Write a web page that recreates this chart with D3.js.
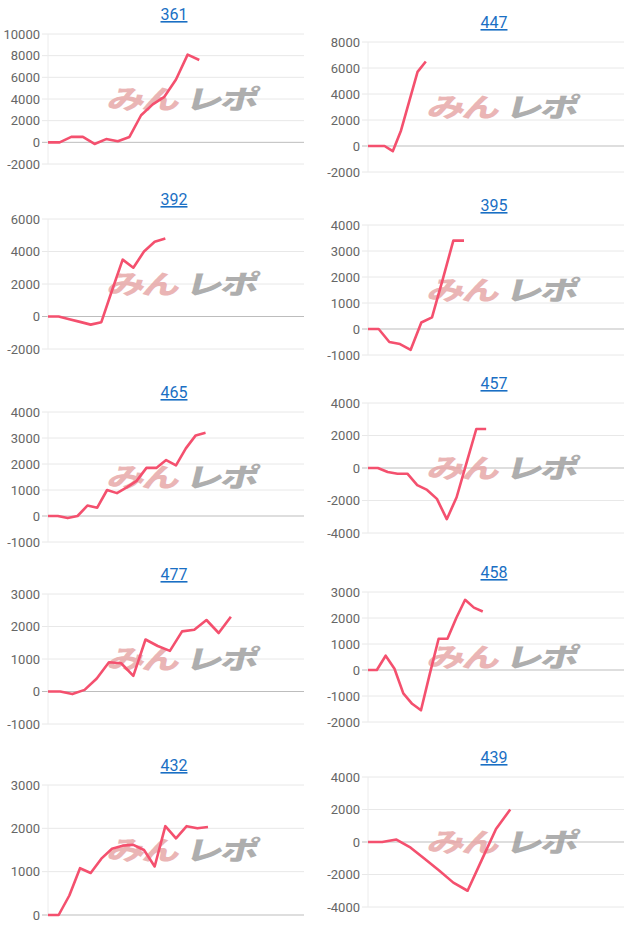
<!DOCTYPE html>
<html><head><meta charset="utf-8">
<script src="https://cdn.jsdelivr.net/npm/d3@7"></script>
<style>body{margin:0;background:#fff;}svg{display:block;font-family:Roboto,"Noto Sans",sans-serif;}</style>
</head><body><svg id="c" width="640" height="931"></svg>
<script>
const titles = ["361","447","392","395","465","457","477","458","432","439"];
const slotCounts = [23,32,25,25,27,27,22,30,25,19];
const yTicks = [
  [-2000,0,2000,4000,6000,8000,10000],
  [-2000,0,2000,4000,6000,8000],
  [-2000,0,2000,4000,6000],
  [-1000,0,1000,2000,3000,4000],
  [-1000,0,1000,2000,3000,4000],
  [-4000,-2000,0,2000,4000],
  [-1000,0,1000,2000,3000],
  [-2000,-1000,0,1000,2000,3000],
  [0,1000,2000,3000],
  [-4000,-2000,0,2000,4000]
];
const v361 = [0,0,500,500,-150,300,100,500,2500,3500,4200,5800,8100,7600];
const v447 = [0,0,0,-400,1200,3450,5700,6500];
const v392 = [0,0,-170,-330,-500,-350,1600,3500,3000,4000,4600,4800];
const v395 = [0,0,-500,-580,-800,250,450,1900,3400,3400];
const v465 = [0,0,-80,0,400,320,1000,880,1100,1350,1850,1850,2150,1950,2600,3100,3200];
const v457 = [0,0,-250,-350,-350,-1050,-1350,-1900,-3150,-1800,300,2400,2400];
const v477 = [0,0,-80,50,400,900,870,480,1600,1400,1250,1850,1900,2200,1800,2300];
const v458 = [0,0,550,50,-900,-1300,-1550,-150,1200,1200,2000,2700,2400,2250];
const v432 = [0,0,450,1080,970,1300,1530,1600,1620,1500,1120,2050,1770,2050,2000,2030];
const v439 = [0,0,150,-350,-1050,-1750,-2500,-3000,-1100,800,2000];
const series = [v361,v447,v392,v395,v465,v457,v477,v458,v432,v439];

const plotTops = [34,42,219,225,412,403,594,592,785,777];
const plotH = 130, plotW = 256;
const colLeft = [48,368];

const svg = d3.select("#c");
series.forEach((vals,i)=>{
  const left = colLeft[i%2], top = plotTops[i];
  const ticks = yTicks[i];
  const g = svg.append("g");
  const x = d3.scaleLinear().domain([0,slotCounts[i]-1]).range([left,left+plotW]);
  const y = d3.scaleLinear().domain([ticks[0],ticks[ticks.length-1]]).range([top+plotH,top]);
  g.selectAll("line.grid").data(ticks).join("line")
    .attr("x1",left-6).attr("x2",left+plotW)
    .attr("y1",d=>y(d)).attr("y2",d=>y(d))
    .attr("stroke",d=>d===0?"#bdbdbd":"#e8e8e8").attr("stroke-width",1);
  g.append("line").attr("x1",left).attr("x2",left).attr("y1",top).attr("y2",top+plotH)
    .attr("stroke","#ececec");
  const ax = d3.axisLeft(y).tickValues(ticks).tickSize(0).tickPadding(8).tickFormat(d=>String(d));
  const a = g.append("g").attr("transform",`translate(${left},0)`).call(ax);
  a.select(".domain").remove();
  a.selectAll("text").attr("fill","#666").style("font-size","13px").attr("font-family","Roboto,Arial,sans-serif");
  g.append("text").attr("x",left+plotW/2-2).attr("y",top-14).attr("text-anchor","middle")
    .attr("fill","#1a6fc4").style("font-size","16px").style("text-decoration","underline").text(titles[i]);
  const wx = left+58, wy = top+plotH*0.5+10;
  const wm = g.append("g").attr("transform",`translate(${wx},${wy}) skewX(-14) scale(1.35,0.95)`).attr("opacity",0.8);
  wm.append("text").attr("x",0).attr("y",0).attr("fill","#e6a3a3").attr("letter-spacing","-2")
    .style("font-size","28px").style("font-weight","900").attr("font-family","Noto Sans CJK JP").text("みん");
  wm.append("text").attr("x",58).attr("y",0).attr("fill","#9a9a9a").attr("letter-spacing","-2")
    .style("font-size","28px").style("font-weight","900").attr("font-family","Noto Sans CJK JP").text("レポ");
  const line = d3.line().x((d,k)=>x(k)).y(d=>y(d));
  g.append("path").datum(vals).attr("d",line).attr("fill","none")
    .attr("stroke","#f4506e").attr("stroke-width",2.6).attr("stroke-linejoin","round");
});
</script></body></html>
